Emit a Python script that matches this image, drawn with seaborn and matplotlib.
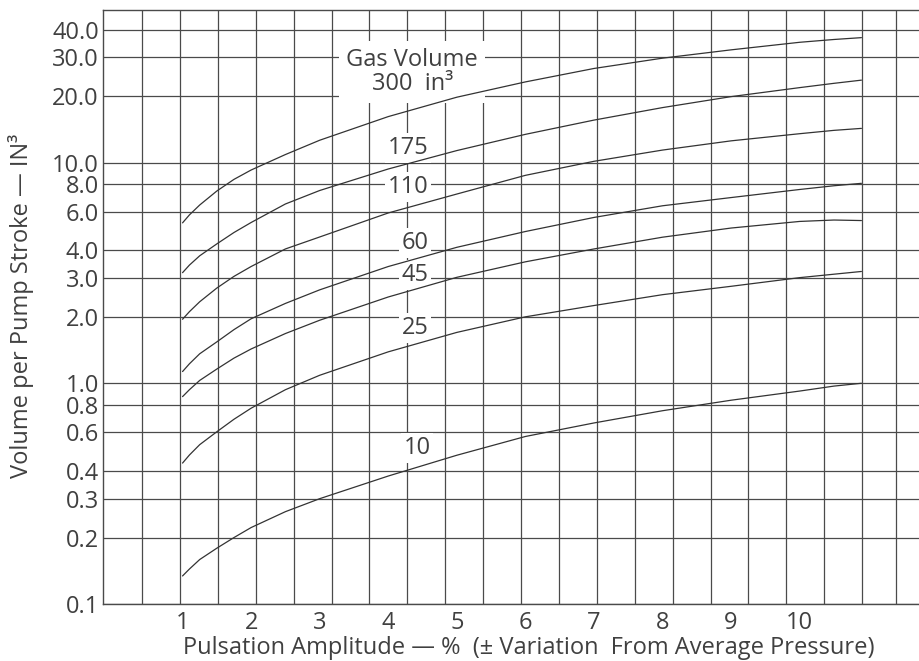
import numpy as np
import pandas as pd
import matplotlib
matplotlib.use("Agg")
import matplotlib.pyplot as plt
import seaborn as sns

# --- data (volume per pump stroke, in^3) ---
pulsation = [1, 1.1, 1.25, 1.5, 1.75, 2, 2.5, 3, 4, 5, 6, 7, 8, 9, 10, 10.5, 10.9]
gas_300 = [5.33, 5.79, 6.42, 7.43, 8.39, 9.25, 10.87, 12.62, 16.15, 19.77, 23.19, 26.68, 29.71, 32.4, 35.06, 36.1, 36.8]
gas_175 = [3.17, 3.43, 3.78, 4.28, 4.82, 5.35, 6.49, 7.47, 9.35, 11.33, 13.42, 15.57, 17.74, 19.89, 21.85, 22.85, 23.62]
gas_110 = [1.95, 2.11, 2.34, 2.70, 3.05, 3.38, 4.06, 4.60, 5.91, 7.20, 8.75, 10.13, 11.39, 12.54, 13.51, 13.99, 14.28]
gas_60 = [1.13, 1.225, 1.36, 1.54, 1.75, 1.96, 2.30, 2.65, 3.38, 4.13, 4.87, 5.64, 6.37, 6.94, 7.55, 7.85, 8.05]
gas_45 = [0.87, 0.935, 1.03, 1.16, 1.30, 1.43, 1.68, 1.93, 2.46, 3.02, 3.55, 4.06, 4.59, 5.05, 5.41, 5.49, 5.46]
gas_25 = [0.435, 0.473, 0.527, 0.603, 0.687, 0.771, 0.935, 1.087, 1.388, 1.70, 2.00, 2.25, 2.52, 2.75, 3.01, 3.12, 3.21]
gas_10 = [0.134, 0.144, 0.159, 0.179, 0.200, 0.222, 0.262, 0.300, 0.380, 0.472, 0.574, 0.661, 0.751, 0.838, 0.922, 0.971, 1.00]

gas_labels = ["300", "175", "110", "60", "45", "25", "10"]
series = [gas_300, gas_175, gas_110, gas_60, gas_45, gas_25, gas_10]

x_ticks = [1, 2, 3, 4, 5, 6, 7, 8, 9, 10]
y_ticks = [0.1, 0.2, 0.3, 0.4, 0.6, 0.8, 1.0, 2.0, 3.0, 4.0, 6.0, 8.0, 10.0, 20.0, 30.0, 40.0]
y_tick_labels = ["0.1", "0.2", "0.3", "0.4", "0.6", "0.8", "1.0", "2.0", "3.0",
                 "4.0", "6.0", "8.0", "10.0", "20.0", "30.0", "40.0"]

# --- style ---
sns.set_theme(style="white")
plt.rcParams['font.family'] = ['Open Sans', 'DejaVu Sans']
ink = '#404040'
grid_c = '#4a4a4a'
fs = 17

df = pd.concat([pd.DataFrame({'x': pulsation, 'vol': vals, 'gas': lab})
                for lab, vals in zip(gas_labels, series)], ignore_index=True)

fig = plt.figure(figsize=(9.19, 6.61), dpi=100)
ax = fig.add_axes([103/919, 57/661, 1 - 103/919, 594/661])

sns.lineplot(data=df, x='x', y='vol', hue='gas', hue_order=gas_labels,
             palette=['#333333'] * len(gas_labels), legend=False,
             linewidth=0.9, ax=ax, zorder=5, sort=False)

ax.set_yscale('log')
ax.set_xlim(-0.16, 11.74)
ax.set_ylim(0.1, 49.1)

# grid (nomograph paper, vertical rulings not aligned with the labels)
grid_x = np.append(np.linspace(0.41, 10.91, 20), 11.41)
ax.set_xticks(x_ticks)
ax.set_xticks(grid_x, minor=True)
ax.set_yticks(y_ticks)
ax.set_yticklabels(y_tick_labels)
ax.yaxis.set_minor_locator(matplotlib.ticker.NullLocator())
ax.grid(False)
ax.grid(True, which='minor', axis='x', color=grid_c, linewidth=0.9)
ax.grid(True, which='major', axis='y', color=grid_c, linewidth=0.9)
ax.set_axisbelow(True)

ax.tick_params(which='both', length=0, labelsize=fs, labelcolor=ink)
ax.tick_params(axis='x', pad=5)
ax.tick_params(axis='y', pad=3)
ax.set_xlabel('')
ax.set_ylabel('')

for side in ['left', 'bottom', 'top']:
    ax.spines[side].set_color(grid_c)
    ax.spines[side].set_linewidth(1.0)
ax.spines['right'].set_visible(False)

# curve labels with white boxes that break the grid
box = dict(boxstyle='square,pad=0.12', facecolor='white', edgecolor='none')
ax.text(4.35, 25.8, 'Gas Volume\n300  in³', ha='center', va='center', fontsize=fs,
        color=ink, linespacing=1.0, zorder=4,
        bbox=dict(boxstyle='square,pad=0.3', facecolor='white', edgecolor='none'))
label_pos = {"175": (4.29, 11.65), "110": (4.29, 7.75), "60": (4.39, 4.32),
             "45": (4.39, 3.10), "25": (4.39, 1.78), "10": (4.42, 0.509)}
for lab, (lx, ly) in label_pos.items():
    ax.text(lx, ly, lab, ha='center', va='center', fontsize=fs, color=ink,
            zorder=4, bbox=box)

fig.text(529/919, 1 - 648/661, 'Pulsation Amplitude — %  (± Variation  From Average Pressure)',
         ha='center', va='center', fontsize=fs, color=ink)
fig.text(21/919, 1 - 306/661, 'Volume per Pump Stroke — IN³', rotation=90,
         ha='center', va='center', fontsize=fs, color=ink)

plt.savefig('out.png', dpi=100)
plt.close()
